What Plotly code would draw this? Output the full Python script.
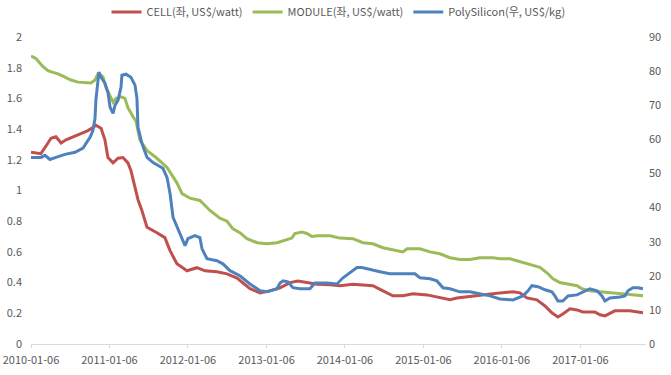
import plotly.graph_objects as go

cell_dates = ["2010-01-06","2010-02-21","2010-03-17","2010-04-09","2010-05-02","2010-05-26","2010-06-18","2010-07-20","2010-08-27","2010-09-28","2010-10-21","2010-11-04","2010-11-28","2010-12-16","2010-12-30","2011-01-23","2011-02-15","2011-03-10","2011-04-02","2011-04-16","2011-05-05","2011-05-19","2011-06-06","2011-06-30","2011-08-15","2011-09-21","2011-10-15","2011-11-16","2012-01-02","2012-02-17","2012-03-26","2012-05-20","2012-07-06","2012-08-22","2012-10-21","2012-12-07","2013-01-22","2013-03-10","2013-04-25","2013-06-01","2013-07-13","2013-08-29","2013-10-28","2013-12-14","2014-02-12","2014-03-31","2014-05-16","2014-07-02","2014-08-17","2014-10-03","2014-11-18","2015-01-23","2015-03-24","2015-05-10","2015-06-11","2015-07-28","2015-09-26","2015-11-26","2015-12-28","2016-02-27","2016-03-30","2016-05-02","2016-06-17","2016-07-25","2016-08-26","2016-09-23","2016-10-16","2016-11-18","2016-12-21","2017-01-17","2017-03-14","2017-04-07","2017-04-30","2017-06-15","2017-08-24","2017-10-24"]
cell_values = [1.25,1.24,1.29,1.34,1.35,1.31,1.33,1.35,1.37,1.39,1.41,1.425,1.405,1.33,1.215,1.18,1.21,1.215,1.18,1.13,1.02,0.94,0.87,0.76,0.725,0.693,0.608,0.523,0.477,0.497,0.477,0.47,0.457,0.43,0.36,0.333,0.346,0.366,0.40,0.41,0.40,0.39,0.386,0.38,0.39,0.386,0.38,0.346,0.314,0.314,0.327,0.32,0.30,0.288,0.30,0.307,0.314,0.327,0.333,0.34,0.333,0.30,0.288,0.248,0.203,0.176,0.196,0.229,0.222,0.209,0.209,0.19,0.183,0.216,0.216,0.203]

module_dates = ["2010-01-06","2010-01-29","2010-03-03","2010-03-26","2010-04-18","2010-05-12","2010-06-04","2010-07-11","2010-08-13","2010-09-19","2010-10-12","2010-10-31","2010-11-14","2010-11-28","2010-12-07","2010-12-21","2011-01-09","2011-01-23","2011-02-06","2011-03-01","2011-03-19","2011-04-02","2011-04-26","2011-05-10","2011-05-28","2011-06-30","2011-08-15","2011-10-01","2011-11-16","2011-12-10","2012-01-16","2012-03-02","2012-04-18","2012-06-03","2012-07-06","2012-08-03","2012-09-04","2012-10-07","2012-11-23","2013-01-08","2013-02-24","2013-04-11","2013-05-04","2013-05-18","2013-06-20","2013-07-13","2013-08-05","2013-09-02","2013-10-28","2013-12-14","2014-02-12","2014-03-31","2014-05-16","2014-07-02","2014-09-05","2014-10-03","2014-10-22","2014-12-21","2015-02-06","2015-03-24","2015-05-10","2015-06-25","2015-08-11","2015-09-26","2015-11-26","2015-12-28","2016-02-13","2016-04-13","2016-07-01","2016-08-03","2016-08-31","2016-10-02","2016-11-18","2016-12-21","2017-01-13","2017-02-19","2017-04-07","2017-06-06","2017-07-23","2017-08-24","2017-10-24"]
module_values = [1.875,1.86,1.806,1.78,1.77,1.76,1.745,1.72,1.706,1.70,1.70,1.72,1.76,1.75,1.74,1.67,1.61,1.575,1.60,1.61,1.60,1.54,1.48,1.45,1.33,1.26,1.21,1.15,1.05,0.98,0.95,0.935,0.87,0.82,0.80,0.75,0.725,0.686,0.66,0.653,0.66,0.68,0.69,0.72,0.73,0.72,0.70,0.705,0.705,0.69,0.686,0.66,0.653,0.627,0.608,0.60,0.62,0.62,0.60,0.588,0.562,0.55,0.55,0.562,0.562,0.555,0.555,0.53,0.50,0.464,0.425,0.40,0.39,0.38,0.36,0.346,0.34,0.333,0.327,0.32,0.314]

poly_dates = ["2010-01-06","2010-02-21","2010-03-12","2010-04-04","2010-05-02","2010-06-13","2010-07-30","2010-09-05","2010-09-19","2010-10-08","2010-10-21","2010-10-31","2010-11-04","2010-11-14","2010-11-18","2010-11-28","2010-12-16","2010-12-30","2011-01-09","2011-01-23","2011-02-01","2011-02-15","2011-03-01","2011-03-05","2011-03-24","2011-04-16","2011-05-05","2011-05-14","2011-05-19","2011-06-06","2011-06-30","2011-07-28","2011-09-12","2011-10-01","2011-10-15","2011-10-29","2011-11-21","2011-12-14","2011-12-24","2012-01-06","2012-02-08","2012-03-02","2012-03-12","2012-04-04","2012-05-20","2012-06-17","2012-07-20","2012-09-04","2012-10-21","2012-12-07","2013-01-08","2013-02-24","2013-03-10","2013-03-24","2013-04-16","2013-05-09","2013-06-11","2013-07-27","2013-08-19","2013-10-14","2013-11-30","2013-12-28","2014-01-29","2014-03-03","2014-03-26","2014-05-02","2014-06-18","2014-08-03","2014-10-03","2014-11-28","2014-12-21","2015-02-06","2015-03-10","2015-04-07","2015-05-10","2015-06-25","2015-08-11","2015-09-26","2015-11-12","2015-12-28","2016-02-27","2016-04-13","2016-05-07","2016-05-25","2016-06-22","2016-07-25","2016-08-26","2016-09-09","2016-09-23","2016-10-16","2016-11-09","2016-12-21","2017-01-17","2017-02-19","2017-03-24","2017-04-16","2017-04-30","2017-05-23","2017-07-09","2017-08-01","2017-08-15","2017-09-07","2017-09-30","2017-10-24"]
poly_values = [54.7,54.7,55.3,54.1,54.7,55.6,56.2,57.4,58.8,60.6,62.6,66.2,71.5,77.4,79.7,78.2,76.5,73.8,69.4,67.6,70.0,71.5,75.3,78.8,79.1,78.2,75.9,72.0,63.5,58.8,54.7,53.2,51.5,48.8,44.1,37.1,33.8,30.3,28.8,30.9,31.8,31.2,27.9,25.0,24.4,23.5,21.5,20.0,17.6,15.6,15.3,16.2,17.9,18.5,18.2,16.5,16.2,16.2,17.9,17.9,17.6,19.4,20.9,22.4,22.4,21.8,21.2,20.6,20.6,20.6,19.4,19.1,18.5,16.5,16.2,15.3,15.3,14.7,14.1,13.2,12.9,14.1,15.6,17.1,16.8,15.9,15.3,14.1,12.6,12.6,14.1,14.4,15.3,16.2,15.6,14.1,12.6,13.5,13.8,14.1,15.6,16.5,16.5,16.2]

x_tick_labels = ["2010-01-06","2011-01-06","2012-01-06","2013-01-06","2014-01-06","2015-01-06","2016-01-06","2017-01-06"]

names = ["CELL(좌, US$/watt)", "MODULE(좌, US$/watt)", "PolySilicon(우, US$/kg)"]
colors = ["#C0504D", "#9BBB59", "#4F81BD"]

FONT = "Noto Sans CJK KR, Noto Sans, sans-serif"
TXT = "#595959"

fig = go.Figure()
fig.add_trace(go.Scatter(x=cell_dates, y=cell_values, name=names[0], mode="lines",
                         line=dict(color=colors[0], width=3)))
fig.add_trace(go.Scatter(x=module_dates, y=module_values, name=names[1], mode="lines",
                         line=dict(color=colors[1], width=3)))
fig.add_trace(go.Scatter(x=poly_dates, y=poly_values, name=names[2], mode="lines",
                         line=dict(color=colors[2], width=3), yaxis="y2"))

fig.update_layout(
    width=671, height=375,
    margin=dict(l=31, r=25, t=37, b=31, autoexpand=False),
    plot_bgcolor="white", paper_bgcolor="white",
    font=dict(family=FONT, size=11, color=TXT),
    showlegend=True,
    legend=dict(orientation="h", xref="paper", x=0.5, xanchor="center",
                yref="container", y=1 - 12 / 375, yanchor="middle",
                font=dict(size=11, color=TXT), itemwidth=30, tracegroupgap=0),
    xaxis=dict(
        type="date",
        range=["2010-01-06", "2017-11-07"],
        tickvals=x_tick_labels, ticktext=x_tick_labels,
        showgrid=False, zeroline=False,
        showline=True, linecolor="#D9D9D9", linewidth=1,
        ticks="outside", ticklen=3, tickcolor="#D9D9D9",
        ticklabelstandoff=3,
        tickfont=dict(size=11, color=TXT),
    ),
    yaxis=dict(
        range=[0, 2], dtick=0.2, tick0=0,
        showgrid=False, zeroline=False, showline=False,
        ticks="", ticklabelstandoff=8, tickfont=dict(size=11, color=TXT),
    ),
    yaxis2=dict(
        range=[0, 90], dtick=10, tick0=0, overlaying="y", side="right",
        showgrid=False, zeroline=False, showline=False,
        ticks="", ticklabelstandoff=2, tickfont=dict(size=11, color=TXT),
    ),
)

fig.write_html("out.html", config={"displayModeBar": False},
               post_script="document.body.style.margin='0';document.body.style.overflow='hidden';")
